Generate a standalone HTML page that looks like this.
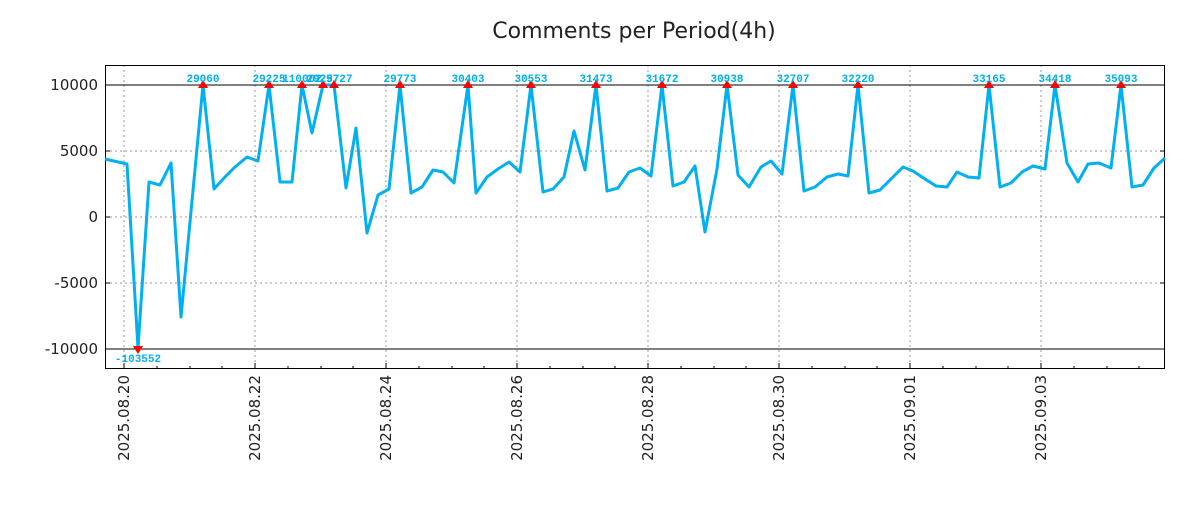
<!DOCTYPE html>
<html><head><meta charset="utf-8"><style>
body{margin:0;background:#fff;}
svg text{font-family:"DejaVu Sans","Liberation Sans",sans-serif;}
.pk{font-family:"Liberation Mono","DejaVu Sans Mono",monospace;font-weight:bold;font-size:11px;fill:#00b0f0;text-anchor:middle;}
</style></head><body>
<svg width="1200" height="500" xmlns="http://www.w3.org/2000/svg">
<rect width="1200" height="500" fill="#fff"/>
<text x="634" y="38" font-size="22" text-anchor="middle" fill="#222">Comments per Period(4h)</text>
<g stroke="#999" stroke-dasharray="2,3" stroke-width="1">
<line x1="105" y1="151" x2="1165" y2="151"/><line x1="105" y1="217" x2="1165" y2="217"/><line x1="105" y1="283" x2="1165" y2="283"/>
<line x1="124" y1="65" x2="124" y2="369"/><line x1="255" y1="65" x2="255" y2="369"/><line x1="386" y1="65" x2="386" y2="369"/><line x1="517" y1="65" x2="517" y2="369"/><line x1="648" y1="65" x2="648" y2="369"/><line x1="779" y1="65" x2="779" y2="369"/><line x1="910" y1="65" x2="910" y2="369"/><line x1="1041" y1="65" x2="1041" y2="369"/>
</g>
<g stroke="#000" stroke-width="1">
<line x1="105" y1="85" x2="1165" y2="85"/><line x1="105" y1="349" x2="1165" y2="349"/>
<rect x="105.5" y="65.5" width="1059" height="303" fill="none"/>
<path d="M124 369v-6M255 369v-6M386 369v-6M517 369v-6M648 369v-6M779 369v-6M910 369v-6M1041 369v-6M157 369v-3M190 369v-3M222 369v-3M288 369v-3M321 369v-3M353 369v-3M419 369v-3M452 369v-3M484 369v-3M550 369v-3M583 369v-3M615 369v-3M681 369v-3M714 369v-3M746 369v-3M812 369v-3M845 369v-3M877 369v-3M943 369v-3M976 369v-3M1008 369v-3M1074 369v-3M1107 369v-3M1139 369v-3M105 85h5M105 151h5M105 217h5M105 283h5M105 349h5M1165 85h-5M1165 151h-5M1165 217h-5M1165 283h-5M1165 349h-5"/>
</g>
<g font-size="15" fill="#222" text-anchor="end">
<text x="98" y="90">10000</text><text x="98" y="156">5000</text><text x="98" y="222">0</text><text x="98" y="288">-5000</text><text x="98" y="354">-10000</text>
</g>
<g font-size="15" fill="#222" text-anchor="end">
<text transform="translate(129,375) rotate(-90)">2025.08.20</text>
<text transform="translate(260,375) rotate(-90)">2025.08.22</text>
<text transform="translate(391,375) rotate(-90)">2025.08.24</text>
<text transform="translate(522,375) rotate(-90)">2025.08.26</text>
<text transform="translate(653,375) rotate(-90)">2025.08.28</text>
<text transform="translate(784,375) rotate(-90)">2025.08.30</text>
<text transform="translate(915,375) rotate(-90)">2025.09.01</text>
<text transform="translate(1046,375) rotate(-90)">2025.09.03</text>
</g>
<polyline fill="none" stroke="#00b0f0" stroke-width="3" stroke-linejoin="round" points="105,159 127,164 138,348 149,182 160,185 171,163 181,317 203,85 214,189 225,177 235,167 247,157 258,161 269,85 280,182 292,182 302,85 312,133 323,85 334,85 346,188 356,128 367,233 378,195 389,189 400,85 411,193 422,187 433,170 443,172 454,183 468,85 476,193 487,177 498,169 509,162 520,172 531,85 543,192 553,189 564,177 574,131 585,170 596,85 607,191 618,188 629,172 640,168 651,176 662,85 673,186 684,182 695,166 705,232 717,169 727,85 738,175 749,187 761,167 771,161 782,174 793,85 804,191 815,187 827,177 838,174 848,176 858,85 869,193 880,190 892,178 903,167 913,171 925,179 936,186 947,187 957,172 968,177 979,178 989,85 1000,187 1011,183 1022,172 1033,166 1045,169 1055,85 1067,163 1078,182 1088,164 1099,163 1111,168 1121,85 1132,187 1143,185 1154,168 1165,158"/>
<g fill="#f00">
<path d="M198 88l5-8 5 8z"/><path d="M264 88l5-8 5 8z"/><path d="M297 88l5-8 5 8z"/><path d="M318 88l5-8 5 8z"/><path d="M329 88l5-8 5 8z"/><path d="M395 88l5-8 5 8z"/><path d="M463 88l5-8 5 8z"/><path d="M526 88l5-8 5 8z"/><path d="M591 88l5-8 5 8z"/><path d="M657 88l5-8 5 8z"/><path d="M722 88l5-8 5 8z"/><path d="M788 88l5-8 5 8z"/><path d="M853 88l5-8 5 8z"/><path d="M984 88l5-8 5 8z"/><path d="M1050 88l5-8 5 8z"/><path d="M1116 88l5-8 5 8z"/>
<path d="M133 346l5 8 5-8z"/>
</g>
<g class="pk">
<text x="203" y="82" class="pk">29060</text><text x="269" y="82" class="pk">29225</text><text x="302" y="82" class="pk">110002</text><text x="323" y="82" class="pk">29257</text><text x="336" y="82" class="pk">29727</text><text x="400" y="82" class="pk">29773</text><text x="468" y="82" class="pk">30403</text><text x="531" y="82" class="pk">30553</text><text x="596" y="82" class="pk">31473</text><text x="662" y="82" class="pk">31672</text><text x="727" y="82" class="pk">30938</text><text x="793" y="82" class="pk">32707</text><text x="858" y="82" class="pk">32220</text><text x="989" y="82" class="pk">33165</text><text x="1055" y="82" class="pk">34418</text><text x="1121" y="82" class="pk">35093</text>
<text x="138" y="362" class="pk">-103552</text>
</g>
</svg>
</body></html>
